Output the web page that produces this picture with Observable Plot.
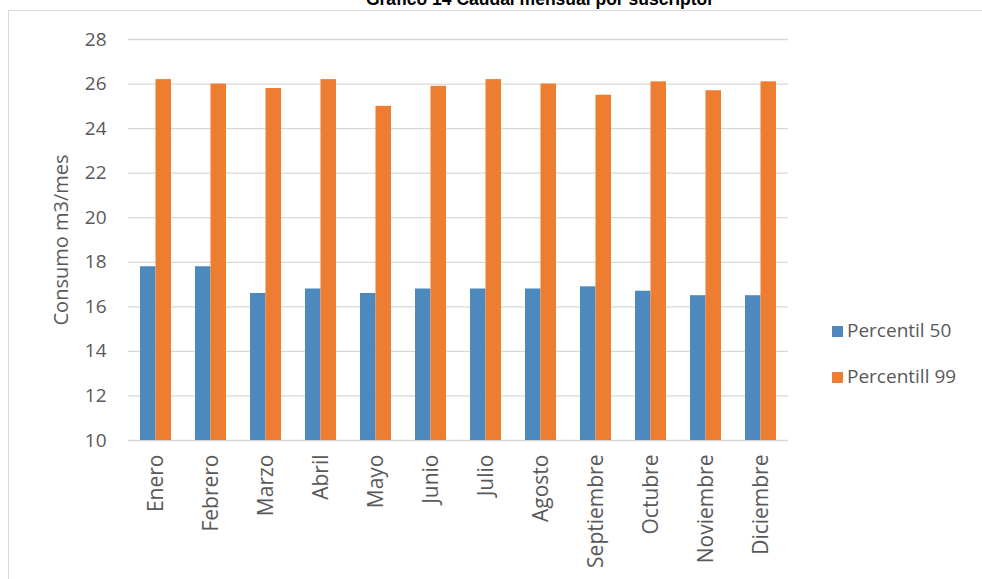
<!DOCTYPE html>
<html>
<head>
<meta charset="utf-8">
<script src="https://cdn.jsdelivr.net/npm/d3@7"></script>
<script src="https://cdn.jsdelivr.net/npm/@observablehq/plot@0.6"></script>
<style>
  html, body { margin: 0; padding: 0; background: #fff; }
  #wrap { position: relative; width: 982px; height: 579px; overflow: hidden; font-family: "Open Sans", sans-serif; }
  #frame { position: absolute; left: 8px; top: 10px; width: 1000px; height: 600px; border-left: 1px solid #d9d9d9; border-top: 1px solid #d9d9d9; }
  #title { position: absolute; left: 40px; width: 1000px; top: -11px; text-align: center; font-family: "Liberation Sans", Arial, sans-serif; font-weight: bold; font-size: 17.5px; color: #000; }
  #chart { position: absolute; left: 0; top: 0; }
  .leg { position: absolute; left: 832px; font-size: 19px; color: #595959; line-height: 20px; }
  .leg span.sw { display: inline-block; width: 11px; height: 11px; margin-right: 4px; vertical-align: 0px; }
</style>
</head>
<body>
<div id="wrap">
  <div id="frame"></div>
  <div id="title">Gráfico 14 Caudal mensual por suscriptor</div>
  <div id="chart"></div>
  <div class="leg" style="top:320px"><span class="sw" style="background:#4E89BE"></span>Percentil 50</div>
  <div class="leg" style="top:366px"><span class="sw" style="background:#ED7D31"></span>Percentill 99</div>
</div>
<script>
const months = ["Enero","Febrero","Marzo","Abril","Mayo","Junio","Julio","Agosto","Septiembre","Octubre","Noviembre","Diciembre"];
const percentil50 = [17.8, 17.8, 16.6, 16.8, 16.6, 16.8, 16.8, 16.8, 16.9, 16.7, 16.5, 16.5];
const percentil99 = [26.2, 26.0, 25.8, 26.2, 25.0, 25.9, 26.2, 26.0, 25.5, 26.1, 25.7, 26.1];
const yTicks = [10, 12, 14, 16, 18, 20, 22, 24, 26, 28];
const seriesNames = ["Percentil 50", "Percentill 99"];
const yTitle = "Consumo m3/mes";

const d50 = months.map((m, i) => ({month: m, value: percentil50[i]}));
const d99 = months.map((m, i) => ({month: m, value: percentil99[i]}));

const chart = Plot.plot({
  width: 982,
  height: 579,
  marginLeft: 128,
  marginRight: 194,
  marginTop: 39,
  marginBottom: 139,
  style: {fontFamily: "'Open Sans', sans-serif", color: "#595959", background: "transparent"},
  x: {domain: months, padding: 0, label: null},
  y: {domain: [10, 28], label: null},
  marks: [
    Plot.ruleY(yTicks, {stroke: "#d9d9d9", strokeWidth: 1.3}),
    Plot.barY(d50, {x: "month", y1: 10, y2: "value", fill: "#4E89BE", insetLeft: 12, insetRight: 27.5}),
    Plot.barY(d99, {x: "month", y1: 10, y2: "value", fill: "#ED7D31", insetLeft: 27.5, insetRight: 12}),
    Plot.axisY(yTicks, {tickSize: 0, tickPadding: 22, fontSize: 19, label: null, fill: "#595959"}),
    Plot.axisX({tickSize: 0, tickPadding: 14, tickRotate: -90, fontSize: 21, label: null, fill: "#595959"}),
    Plot.text([yTitle], {frameAnchor: "left", textAnchor: "middle", rotate: -90, dx: -67, fontSize: 20, fill: "#595959"})
  ]
});
document.getElementById("chart").appendChild(chart);
</script>
</body>
</html>
